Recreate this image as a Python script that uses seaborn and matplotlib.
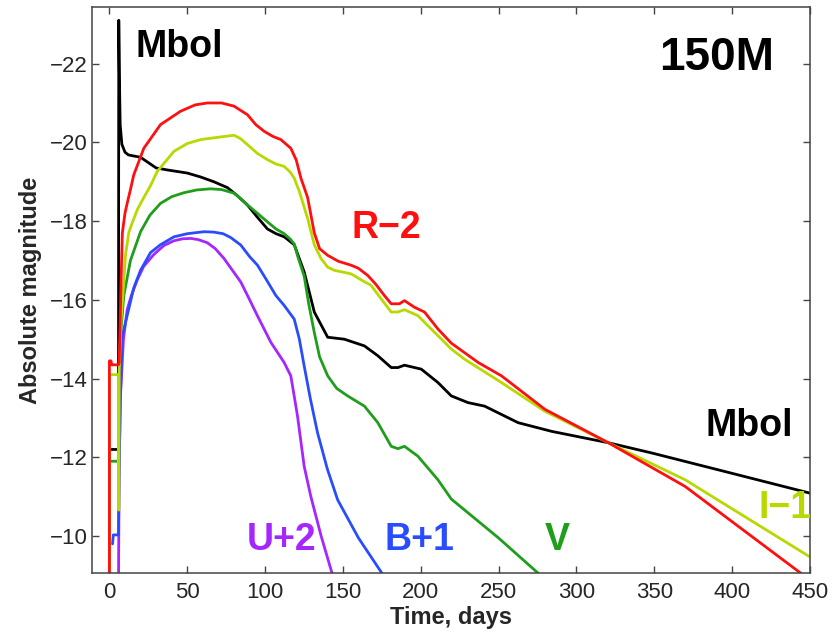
import matplotlib
matplotlib.use("Agg")
import matplotlib.pyplot as plt
import seaborn as sns

# ---------------- data ----------------
mbol_t = [0, 0, 5.8, 6.0, 6.4, 6.9, 8, 10, 12.2, 20, 30, 37, 50, 58.6, 67, 75.8, 82, 88.6, 95,
          101.5, 107, 112.3, 118.7, 125.1, 131.6, 140.2, 150.9, 163.8, 172.4, 181, 185.3, 189.5,
          200.3, 211, 219.6, 230.3, 241, 262.5, 284, 305.4, 320.5, 348.4, 391.3, 450]
mbol_m = [-8.5, -12.2, -12.2, -23.1, -21.7, -20.45, -19.95, -19.75, -19.68, -19.62, -19.35, -19.3,
          -19.22, -19.12, -19.0, -18.85, -18.65, -18.41, -18.1, -17.8, -17.68, -17.6, -17.4, -16.71,
          -15.69, -15.05, -15.0, -14.83, -14.58, -14.28, -14.28, -14.34, -14.24, -13.9, -13.56,
          -13.39, -13.3, -12.88, -12.66, -12.49, -12.37, -12.11, -11.68, -11.09]

r_t = [0, 0, 1, 1.5, 5.8, 6.3, 7.5, 8.3, 10, 11.4, 13.5, 15.6, 22.1, 32.8, 45.7, 55, 62.9, 72, 80,
       88.7, 94, 99.4, 105, 110.1, 116.5, 120, 123, 127.3, 131.6, 135, 140.2, 147, 155.2, 160,
       165.9, 171, 176.6, 181, 186.3, 189.5, 196, 202.4, 211, 219.6, 236.8, 251.8, 279.7, 320.5,
       369.8, 446, 452]
r_m = [-8.5, -14.45, -14.45, -14.35, -14.35, -14.4, -16.5, -17.7, -18.2, -18.45, -18.8, -19.17,
       -19.85, -20.45, -20.79, -20.95, -21.0, -21.0, -20.92, -20.7, -20.45, -20.28, -20.15, -20.07,
       -19.85, -19.55, -19.09, -18.6, -17.7, -17.3, -17.13, -16.98, -16.88, -16.8, -16.62, -16.4,
       -16.11, -15.9, -15.9, -15.98, -15.81, -15.69, -15.26, -14.9, -14.41, -14.07, -13.22, -12.37,
       -11.26, -9.0, -8.8]

i_t = [0, 0, 5.8, 6.0, 6.3, 7.5, 9.2, 10.3, 12.4, 14.6, 18, 22.1, 26.4, 30.7, 41.4, 50, 58.6, 70,
       80, 84, 88.7, 95, 101.5, 107, 112.2, 116, 118.7, 122, 127.3, 131.6, 135.9, 140.2, 144.4,
       155.2, 162, 168, 175, 181, 185.3, 189.5, 198.1, 211, 219.6, 228.2, 251.8, 279.7, 320.5,
       369.8, 450]
i_m = [-8.5, -14.1, -14.1, -10.66, -14.2, -15.5, -16.45, -17.13, -17.7, -17.95, -18.3, -18.6,
       -18.9, -19.26, -19.77, -19.97, -20.07, -20.13, -20.18, -20.1, -19.94, -19.72, -19.56, -19.45,
       -19.39, -19.25, -19.09, -18.75, -18.07, -17.4, -17.05, -16.83, -16.75, -16.66, -16.5, -16.37,
       -16.0, -15.69, -15.69, -15.75, -15.6, -15.09, -14.75, -14.49, -13.9, -13.17, -12.37, -11.43,
       -9.47]

v_t = [0, 0, 5.8, 6.2, 7, 9.2, 13.5, 20, 26, 32.8, 40, 47.8, 56, 65, 72, 80, 84, 88.7, 95, 101.5,
       107, 112.2, 116, 118.7, 121, 125.1, 128, 131.6, 135, 140.2, 146, 153, 163.8, 172.4, 181,
       185.3, 189.5, 198.1, 211, 219.6, 250, 277, 280]
v_m = [-8.5, -11.9, -11.9, -12.5, -15.0, -16.1, -17.0, -17.73, -18.15, -18.45, -18.62, -18.72,
       -18.79, -18.82, -18.8, -18.71, -18.58, -18.41, -18.2, -17.98, -17.8, -17.68, -17.55, -17.42,
       -17.1, -16.6, -15.9, -15.17, -14.55, -14.07, -13.75, -13.56, -13.3, -12.88, -12.28, -12.22,
       -12.28, -12.03, -11.43, -10.94, -9.95, -9.0, -8.9]

b_t = [2, 2.5, 5.8, 6.2, 7, 8.2, 11.4, 15.6, 20, 26.4, 32.8, 41.4, 50, 60.7, 67, 73, 78, 84.4, 90,
       95.1, 101, 106.9, 112.2, 118.7, 122, 125.1, 129, 133.7, 140, 146.6, 160, 176, 178]
b_m = [-9.8, -10.03, -10.03, -11.5, -13.5, -15.07, -15.6, -16.3, -16.75, -17.2, -17.4, -17.6,
       -17.68, -17.73, -17.72, -17.68, -17.58, -17.39, -17.1, -16.88, -16.5, -16.11, -15.86, -15.51,
       -15.0, -14.32, -13.5, -12.62, -11.7, -10.92, -9.95, -9.0, -8.85]

u_t = [5.8, 6.2, 7, 9, 11.4, 14, 17.8, 22, 28.5, 35, 41.4, 47, 52.2, 57, 62.9, 68, 73.6, 79, 84.4,
       89.7, 95, 103.7, 112.2, 116.5, 118.5, 120.8, 125.1, 129.4, 136, 143.4, 145]
u_m = [-8.5, -11.5, -13.5, -15.0, -15.75, -16.1, -16.5, -16.85, -17.15, -17.38, -17.5, -17.55,
       -17.56, -17.53, -17.45, -17.3, -17.05, -16.75, -16.45, -16.03, -15.6, -14.92, -14.41, -14.07,
       -13.6, -13.05, -11.77, -11.0, -10.0, -9.0, -8.8]

series_names = ["Mbol", "V", "U+2", "B+1", "I\u22121", "R\u22122"]
series_colors = ["#000000", "#1f9e1c", "#a526ff", "#2a4cff", "#b9d800", "#ff1010"]

# ---------------- plot ----------------
sns.set_style("ticks")
plt.rcParams["font.family"] = ["Liberation Sans", "DejaVu Sans"]

fig = plt.figure(figsize=(8.33, 6.34), dpi=100)
ax = fig.add_axes([0.1108, 0.0967, 0.8616, 0.8918])

data = [(mbol_t, mbol_m), (v_t, v_m), (u_t, u_m), (b_t, b_m), (i_t, i_m), (r_t, r_m)]
for (t, m), col in zip(data, series_colors):
    sns.lineplot(x=t, y=m, ax=ax, color=col, lw=2.0, estimator=None, sort=False,
                 legend=False)

ax.set_xlim(-11, 450)
ax.set_ylim(-9.07, -23.43)
ax.set_xticks(list(range(0, 451, 50)))
ax.set_yticks([-10, -12, -14, -16, -18, -20, -22])
ax.tick_params(direction="in", top=True, right=True, length=5, width=1,
               labelsize=16, color="#444444")
ax.tick_params(axis="y", pad=3)
ax.tick_params(axis="x", pad=7)
for s in ax.spines.values():
    s.set_color("#444444")
    s.set_linewidth(1.1)
    s.set_visible(True)

ax.set_xlabel("Time, days", fontsize=17, fontweight="bold", labelpad=2)
ax.set_ylabel("Absolute magnitude", fontsize=17, fontweight="bold", labelpad=6)

lab_kw = dict(fontsize=27, fontweight="bold", ha="left", va="center")
ax.text(16.5, -22.41, "Mbol", color="#000000", **lab_kw)
ax.text(353, -22.14, "150M", color="#000000", fontsize=33, fontweight="bold",
        ha="left", va="center")
ax.text(155.7, -17.83, "R\u22122", color=series_colors[5], **lab_kw)
ax.text(382.6, -12.79, "Mbol", color="#000000", **lab_kw)
ax.text(417, -10.71, "I\u22121", color=series_colors[4], **lab_kw)
ax.text(88.4, -9.9, "U+2", color=series_colors[2], **lab_kw)
ax.text(177, -9.9, "B+1", color=series_colors[3], **lab_kw)
ax.text(279.8, -9.9, "V", color=series_colors[1], **lab_kw)

fig.savefig("out.png", dpi=100)
